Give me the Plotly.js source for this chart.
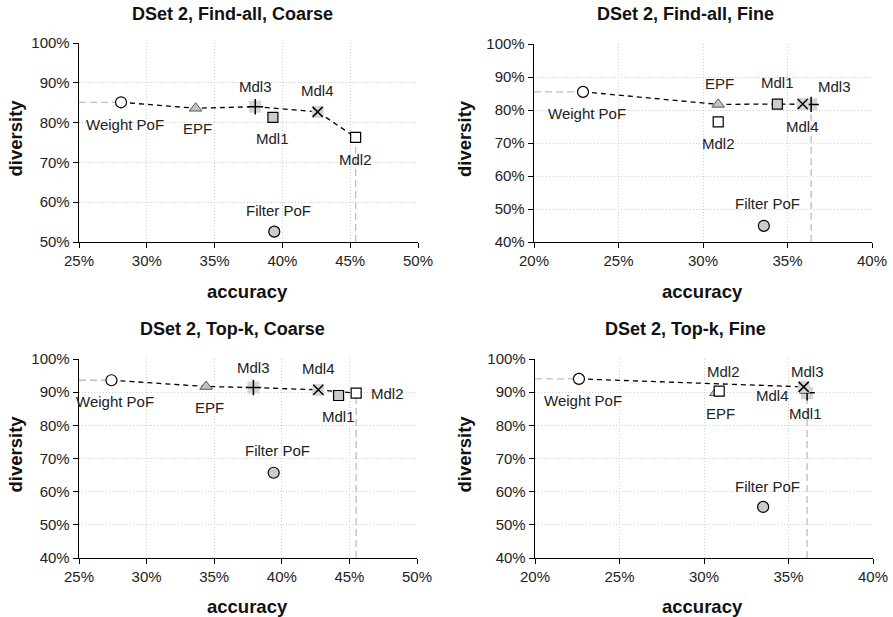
<!DOCTYPE html>
<html>
<head>
<meta charset="utf-8">
<script src="https://cdn.plot.ly/plotly-3.0.1.min.js"></script>
<style>html,body{margin:0;padding:0;background:#fff;}#chart{width:893px;height:617px;}</style>
</head>
<body>
<div id="chart"></div>
<script>
// ---- data (accuracy %, diversity %) ----
const models = ["Weight PoF", "EPF", "Mdl1", "Mdl2", "Mdl3", "Mdl4", "Filter PoF"];

const faCoarseAcc = [28.1, 33.6, 39.3, 45.4, 38.0, 42.6, 39.4];
const faCoarseDiv = [85.1, 83.6, 81.3, 76.3, 84.0, 82.7, 52.6];
const faFineAcc   = [22.9, 30.9, 34.4, 30.9, 36.4, 35.9, 33.6];
const faFineDiv   = [85.5, 81.7, 81.8, 76.4, 81.7, 81.8, 44.9];
const tkCoarseAcc = [27.4, 34.4, 44.2, 45.5, 37.9, 42.7, 39.4];
const tkCoarseDiv = [93.6, 91.7, 89.0, 89.7, 91.4, 90.7, 65.7];
const tkFineAcc   = [22.6, 30.7, 36.1, 30.9, 36.1, 35.9, 33.5];
const tkFineDiv   = [94.0, 89.8, 89.8, 90.3, 89.8, 91.6, 55.4];

// Pareto fronts (order along the dashed line)
const faCoarseFront = ["Weight PoF", "EPF", "Mdl3", "Mdl4", "Mdl2"];
const faFineFront   = ["Weight PoF", "EPF", "Mdl1", "Mdl4", "Mdl3"];
const tkCoarseFront = ["Weight PoF", "EPF", "Mdl3", "Mdl4", "Mdl2"];
const tkFineFront   = ["Weight PoF", "Mdl4", "Mdl3"];

const titles = ["DSet 2, Find-all, Coarse", "DSet 2, Find-all, Fine", "DSet 2, Top-k, Coarse", "DSet 2, Top-k, Fine"];
const xTitle = "accuracy";
const yTitle = "diversity";

// ---- styling / layout ----
const W = 893, H = 617;
const FONT = "Liberation Sans, Arial, Helvetica, sans-serif";

const markerStyle = {
  "Weight PoF": [{symbol: "circle", size: 11, color: "#ffffff", line: {color: "#000", width: 1.2}}],
  "EPF":        [{symbol: "triangle-up", size: 11, color: "#c4c4c4", line: {color: "#555", width: 1}}],
  "Mdl1":       [{symbol: "square", size: 10, color: "#cccccc", line: {color: "#000", width: 1.2}}],
  "Mdl2":       [{symbol: "square", size: 10, color: "#ffffff", line: {color: "#000", width: 1.2}}],
  "Mdl3":       [{symbol: "square", size: 12, color: "#d6d6d6", line: {width: 0}},
                 {symbol: "cross-thin", size: 11, color: "#000", line: {color: "#000", width: 1.5}}],
  "Mdl4":       [{symbol: "square", size: 12, color: "#d6d6d6", line: {width: 0}},
                 {symbol: "x-thin", size: 10, color: "#000", line: {color: "#000", width: 1.5}}],
  "Filter PoF": [{symbol: "circle", size: 11, color: "#cccccc", line: {color: "#000", width: 1.2}}]
};

// label offsets in pixels [dx, dy(down)]
const offsets = [
  {"Weight PoF": [4, 22], "EPF": [2, 20], "Mdl1": [0, 21], "Mdl2": [0, 22], "Mdl3": [0, -20], "Mdl4": [0, -21], "Filter PoF": [4, -21]},
  {"Weight PoF": [4, 22], "EPF": [1, -21], "Mdl1": [0, -22], "Mdl2": [0, 22], "Mdl3": [23, -18], "Mdl4": [0, 22], "Filter PoF": [4, -22]},
  {"Weight PoF": [4, 21], "EPF": [3, 21], "Mdl1": [0, 21], "Mdl2": [31, 0], "Mdl3": [0, -20], "Mdl4": [0, -21], "Filter PoF": [4, -22]},
  {"Weight PoF": [4, 22], "EPF": [5, 21], "Mdl1": [-2, 21], "Mdl2": [4, -20], "Mdl3": [0, -21], "Mdl4": [-31, 9], "Filter PoF": [4, -20]}
];

// plot areas in pixels [left, right, top, bottom]
const boxes = [[79, 418, 43, 242], [534, 872, 44, 242], [79, 417, 359, 558], [535, 873, 359, 558]];
const ranges = [[[25, 50], [50, 100]], [[20, 40], [40, 100]], [[25, 50], [40, 100]], [[20, 40], [40, 100]]];
const panelData = [
  [faCoarseAcc, faCoarseDiv, faCoarseFront],
  [faFineAcc, faFineDiv, faFineFront],
  [tkCoarseAcc, tkCoarseDiv, tkCoarseFront],
  [tkFineAcc, tkFineDiv, tkFineFront]
];

const traces = [];
const layout = {
  width: W, height: H, margin: {l: 0, r: 0, t: 0, b: 0},
  paper_bgcolor: "#fff", plot_bgcolor: "#fff", showlegend: false,
  font: {family: FONT, size: 15, color: "#222"},
  annotations: []
};

panelData.forEach((pd, i) => {
  const [acc, div, front] = pd;
  const n = i === 0 ? "" : String(i + 1);
  const xa = "x" + n, ya = "y" + n;
  const [xr, yr] = ranges[i];
  const [l, r, t, b] = boxes[i];

  const axisCommon = {
    showline: true, linecolor: "#000", linewidth: 1.3, ticks: "outside", ticklen: 5, tickcolor: "#000",
    showgrid: true, gridcolor: "#cfcfcf", griddash: "1px,2px", gridwidth: 1, zeroline: false,
    tickfont: {family: FONT, size: 15, color: "#222"}, fixedrange: true, ticksuffix: "%"
  };
  layout["xaxis" + n] = Object.assign({domain: [l / W, r / W], range: xr, anchor: ya, dtick: 5}, axisCommon);
  layout["yaxis" + n] = Object.assign({domain: [1 - b / H, 1 - t / H], range: yr, anchor: xa, dtick: 10}, axisCommon);

  const idx = name => models.indexOf(name);
  const w = idx("Weight PoF");
  const last = idx(front[front.length - 1]);

  // gray dashed guides
  traces.push({x: [xr[0], acc[w]], y: [div[w], div[w]], xaxis: xa, yaxis: ya, mode: "lines",
    line: {color: "#bdbdbd", width: 1.3, dash: "7px,4px"}, hoverinfo: "skip"});
  traces.push({x: [acc[last], acc[last]], y: [yr[0], div[last]], xaxis: xa, yaxis: ya, mode: "lines",
    line: {color: "#bdbdbd", width: 1.3, dash: "7px,4px"}, hoverinfo: "skip"});
  // pareto front
  traces.push({x: front.map(m => acc[idx(m)]), y: front.map(m => div[idx(m)]), xaxis: xa, yaxis: ya,
    mode: "lines", line: {color: "#000", width: 1.3, dash: "5px,4px"}, hoverinfo: "skip"});

  // markers (draw order)
  const order = ["Filter PoF", "EPF", "Mdl2", "Mdl1", "Weight PoF", "Mdl3", "Mdl4"];
  order.forEach(m => {
    const k = idx(m);
    markerStyle[m].forEach(st => {
      traces.push({x: [acc[k]], y: [div[k]], xaxis: xa, yaxis: ya, mode: "markers", name: m,
        marker: st, hoverinfo: "name"});
    });
    const [dx, dy] = offsets[i][m];
    layout.annotations.push({x: acc[k], y: div[k], xref: xa, yref: ya, text: m, showarrow: false,
      xshift: dx, yshift: -dy, font: {family: FONT, size: 15, color: "#222"}});
  });

  // titles
  const titleX = [232, 685, 232, 685][i], titleY = [14, 14, 329, 329][i];
  layout.annotations.push({xref: "paper", yref: "paper", x: titleX / W, y: 1 - titleY / H, text: "<b>" + titles[i] + "</b>",
    showarrow: false, xanchor: "center", yanchor: "middle", font: {family: FONT, size: 18, color: "#111"}});
  const axY = [291, 291, 606, 606][i];
  layout.annotations.push({xref: "paper", yref: "paper", x: [247, 702, 247, 702][i] / W, y: 1 - axY / H, text: "<b>" + xTitle + "</b>",
    showarrow: false, xanchor: "center", yanchor: "middle", font: {family: FONT, size: 18.5, color: "#111"}});
  layout.annotations.push({xref: "paper", yref: "paper", x: [15, 464, 15, 464][i] / W, y: 1 - ((t + b) / 2 - 4) / H, text: "<b>" + yTitle + "</b>",
    showarrow: false, textangle: -90, xanchor: "center", yanchor: "middle", font: {family: FONT, size: 18.5, color: "#111"}});
});

Plotly.newPlot("chart", traces, layout, {displayModeBar: false, staticPlot: true});
</script>
</body>
</html>
